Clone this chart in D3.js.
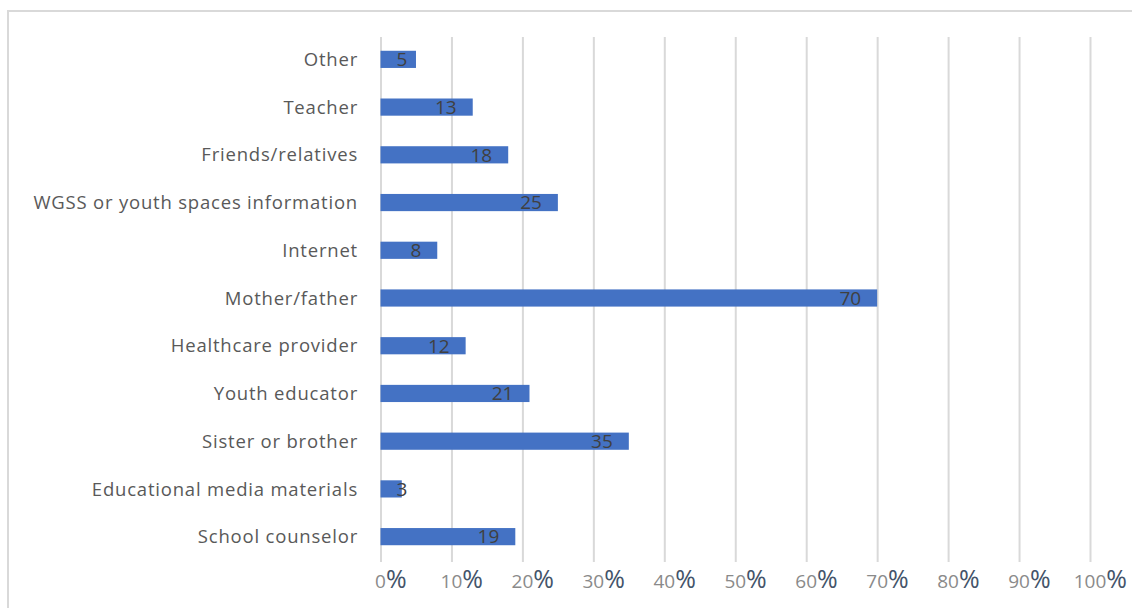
<!DOCTYPE html>
<html><head><meta charset="utf-8">
<script src="https://cdn.jsdelivr.net/npm/d3@7"></script>
<style>html,body{margin:0;padding:0;background:#fff;}svg{display:block;}</style>
</head><body>
<svg id="chart" width="1132" height="608"></svg>
<script>
const categories = ["Other","Teacher","Friends/relatives","WGSS or youth spaces information","Internet","Mother/father","Healthcare provider","Youth educator","Sister or brother","Educational media materials","School counselor"];
const values = [5,13,18,25,8,70,12,21,35,3,19];
const tickValues = [0,10,20,30,40,50,60,70,80,90,100];

const svg = d3.select("#chart");
const font = "'Open Sans', 'Noto Sans', sans-serif";

// outer frame
svg.append("rect").attr("x",8).attr("y",11).attr("width",1200).attr("height",700)
  .attr("fill","none").attr("stroke","#d9d9d9").attr("stroke-width",2);

const x = d3.scaleLinear().domain([0,100]).range([380.5,1090]);
const y = d3.scaleBand().domain(categories).range([35.5,560.5]).paddingInner(0.64).paddingOuter(0.32);

// gridlines via axis
const grid = svg.append("g").attr("transform","translate(0,562)")
  .call(d3.axisBottom(x).tickValues(tickValues).tickSize(-(562-37)).tickFormat(""));
grid.select(".domain").remove();
grid.selectAll("line").attr("stroke","#d9d9d9").attr("stroke-width",2);

// bars
const data = categories.map((c,i)=>({c, v: values[i]}));
svg.append("g").selectAll("rect").data(data).join("rect")
  .attr("x", x(0)).attr("y", d=>y(d.c)).attr("width", d=>x(d.v)-x(0)).attr("height", y.bandwidth())
  .attr("fill","#4472c4");

// data labels
const lbl = svg.append("g").selectAll("text").data(data).join("text")
  .attr("y", d=>y(d.c)+y.bandwidth()/2).attr("dy","0.36em")
  .attr("text-anchor","end").attr("font-family",font).attr("font-size",19).attr("fill","#404040")
  .text(d=>d.v);
lbl.each(function(d){
  const w = this.getComputedTextLength();
  const xr = Math.max(x(d.v)-16, x(0)+16+w);
  d3.select(this).attr("x", xr);
});

// category axis labels
const yAxis = svg.append("g").attr("transform","translate(358,0)")
  .call(d3.axisLeft(y).tickSize(0).tickPadding(0));
yAxis.select(".domain").remove();
yAxis.selectAll("text").attr("font-family",font).attr("font-size",18.5).attr("letter-spacing","0.8px")
  .attr("fill","#595959").attr("dy","0.36em");

// x tick labels: digits gray, percent sign dark
const xl = svg.append("g").selectAll("text").data(tickValues).join("text")
  .attr("y",588).attr("font-family",font).attr("text-anchor","start");
xl.append("tspan").attr("class","num").attr("font-size",19).attr("fill","#8a8a8a").text(d=>d);
xl.append("tspan").attr("font-size",25).attr("fill","#44546a").text("%");
xl.each(function(d){
  const w = d3.select(this).select(".num").node().getComputedTextLength();
  d3.select(this).attr("x", x(d)-w/2);
});
</script>
</body></html>
